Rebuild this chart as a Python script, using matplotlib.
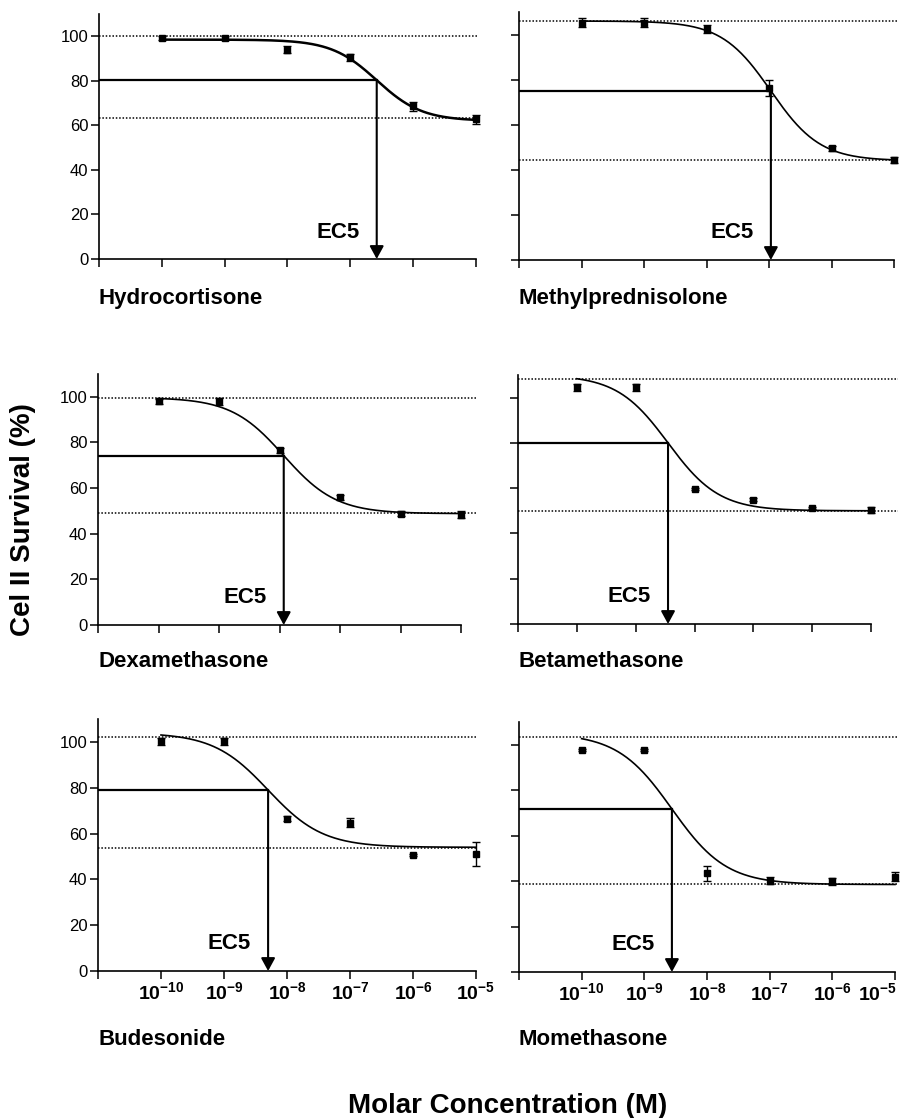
import numpy as np
import matplotlib
matplotlib.use('Agg')
import matplotlib.pyplot as plt
from matplotlib.transforms import ScaledTranslation

plt.rcParams['font.family'] = ['Liberation Sans', 'DejaVu Sans']
plt.rcParams['mathtext.fontset'] = 'custom'
plt.rcParams['mathtext.rm'] = 'Liberation Sans'
plt.rcParams['mathtext.bf'] = 'Liberation Sans:bold'

# data
log_conc = [-10, -9, -8, -7, -6, -5]
names = ['Hydrocortisone', 'Methylprednisolone', 'Dexamethasone',
         'Betamethasone', 'Budesonide', 'Momethasone']
survival = [
    [99.2, 99.2, 94.0, 90.5, 68.5, 62.8],
    [105.3, 105.3, 102.3, 76.3, 49.5, 44.3],
    [98.0, 98.0, 76.5, 55.9, 48.8, 48.4],
    [104.5, 104.5, 59.8, 55.0, 51.4, 50.4],
    [100.2, 100.2, 66.5, 64.8, 50.5, 51.2],
    [97.8, 97.8, 43.5, 40.2, 40.0, 42.0],
]
errors = [
    [0.8, 0.8, 1.6, 1.5, 2.0, 2.0],
    [2.0, 2.0, 1.8, 3.4, 1.2, 1.2],
    [1.0, 1.5, 1.2, 1.0, 1.0, 1.5],
    [1.5, 1.5, 0.5, 0.5, 0.5, 1.5],
    [1.5, 1.5, 1.2, 1.8, 0.5, 5.3],
    [0.5, 0.5, 3.3, 1.5, 1.5, 1.8],
]
# fitted curve: top, bottom, logEC50, hill slope
fit_top = [98.5, 106.0, 99.7, 110.0, 104.0, 105.0]
fit_bottom = [62.0, 44.0, 48.8, 50.0, 54.0, 38.5]
fit_logec = [-6.58, -6.97, -7.93, -8.45, -8.30, -8.56]
fit_hill = [1.2, 1.1, 1.0, 1.0, 1.0, 1.0]
# dotted reference levels
ref_top = [100.0, 106.1, 99.7, 108.3, 102.2, 103.3]
ref_bottom = [63.2, 44.3, 49.1, 50.1, 53.7, 38.6]

W, H = 902, 1118
fig = plt.figure(figsize=(W / 100, H / 100), dpi=100)

# axes boxes in pixels: x0, x at 1e-5, y_top, y_zero, right end of dotted lines
boxes = [(99, 476, 14, 259, 477), (519, 894, 12, 260, 898),
         (98, 461, 374, 625, 477), (518, 871, 375, 624, 898),
         (98, 476, 719, 971, 476), (519, 895, 722, 972, 897)]
name_base = [304, 304, 667, 667, 1045, 1045]


def hill(x, top, bottom, logec, h):
    return bottom + (top - bottom) / (1 + 10 ** (h * (x - logec)))


for i in range(6):
    x0, x1, yt, yz, xr = boxes[i]
    ax = fig.add_axes([x0 / W, (H - yz) / H, (xr - x0) / W, (yz - yt) / H])
    ax.set_xscale('log')
    right = -11 + 6 * (xr - x0) / (x1 - x0)
    ax.set_xlim(1e-11, 10 ** right)
    ax.set_ylim(0, 110)
    for s in ['top', 'right']:
        ax.spines[s].set_visible(False)
    for s in ['left', 'bottom']:
        ax.spines[s].set_linewidth(1.2)
    ax.spines['bottom'].set_bounds(1e-11, 1e-5)

    ax.axhline(ref_top[i], color='black', ls=(0, (1, 1.2)), lw=1.1)
    ax.axhline(ref_bottom[i], color='black', ls=(0, (1, 1.2)), lw=1.1)

    xs = np.linspace(-10, -5, 300)
    ys = hill(xs, fit_top[i], fit_bottom[i], fit_logec[i], fit_hill[i])
    ax.plot(10 ** xs, ys, color='black', lw=1.8 if i == 0 else 1.2)

    conc = [10.0 ** e for e in log_conc]
    ax.errorbar(conc, survival[i], yerr=errors[i], fmt='s', color='black',
                ms=5, capsize=3, elinewidth=1, capthick=1, clip_on=False)

    ec = 10 ** fit_logec[i]
    mid = hill(fit_logec[i], fit_top[i], fit_bottom[i], fit_logec[i], fit_hill[i])
    ax.plot([1e-11, ec], [mid, mid], color='black', lw=1.6)
    ax.annotate('', xy=(ec, 0), xytext=(ec, mid),
                arrowprops=dict(arrowstyle='-|>,head_length=0.55,head_width=0.3',
                                color='black', lw=1.5, mutation_scale=14,
                                shrinkA=0, shrinkB=0))
    ax.annotate('EC5', xy=(ec, 12), xytext=(-17, 0), textcoords='offset pixels',
                ha='right', va='center', fontsize=16, fontweight='bold')

    ax.set_yticks(range(0, 101, 20))
    ax.set_xticks([10.0 ** e for e in range(-11, -4)])
    ax.xaxis.set_minor_locator(matplotlib.ticker.NullLocator())
    ax.tick_params(axis='both', direction='out', length=6, width=1.1)
    ax.tick_params(axis='y', labelsize=12, pad=1.5)
    if i % 2 == 1:
        ax.set_yticklabels([])
    if i >= 4:
        labels = [''] + [r'$\mathbf{10^{%d}}$' % e for e in range(-10, -4)]
        ax.set_xticklabels(labels, fontsize=14)
        ax.tick_params(axis='x', pad=1)
        if i == 5:
            # keep the last label inside the picture
            lab = ax.get_xticklabels()[-1]
            lab.set_transform(lab.get_transform()
                              + ScaledTranslation(-17 / 100, 0, fig.dpi_scale_trans))
    else:
        ax.set_xticklabels([])

    fig.text(x0 / W, (H - name_base[i]) / H, names[i], fontsize=16,
             fontweight='bold', ha='left', va='baseline')

fig.text(23 / W, (H - 520) / H, 'Cel II Survival (%)', rotation=90,
         fontsize=20, fontweight='bold', ha='center', va='center')
fig.text(348 / W, (H - 1113) / H, 'Molar Concentration (M)', fontsize=20,
         fontweight='bold', ha='left', va='baseline')

fig.savefig('out.png', dpi=100)
